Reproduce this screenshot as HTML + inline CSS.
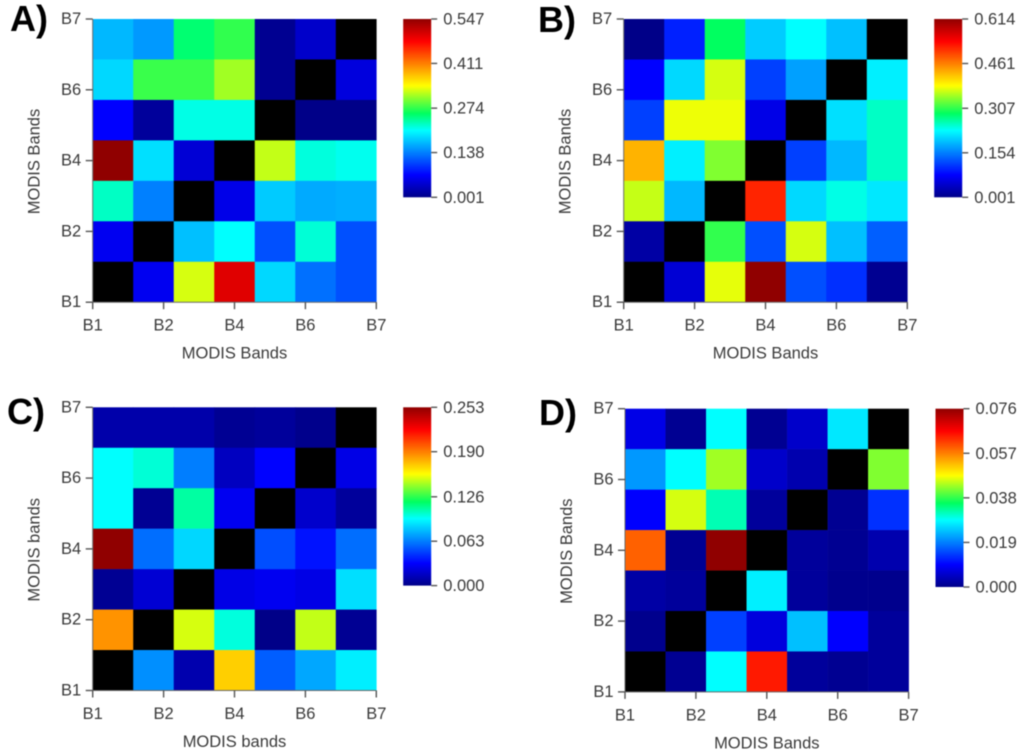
<!DOCTYPE html>
<html lang="en">
<head>
<meta charset="utf-8">
<title>MODIS band heatmaps</title>
<style>
html,body{margin:0;padding:0;background:#fff;width:1024px;height:756px;overflow:hidden}
svg{display:block;filter:blur(0.45px)}
text{font-family:"Liberation Sans",sans-serif}
.t{font-size:16.5px;fill:#3a3a3a}
.p{font-size:36px;font-weight:bold;fill:#000}
</style>
</head>
<body>
<svg id="chart" xmlns="http://www.w3.org/2000/svg" width="1024" height="756" viewBox="0 0 1024 756"></svg>
<script>
const xTickLabels = ["B1", "B2", "B4", "B6", "B7"];
const yTickLabels = ["B1", "B2", "B4", "B6", "B7"];

// Rows run from the top of each chart (B7) to the bottom (B1); null is the black diagonal.
const valuesA = [
  [0.168, 0.151, 0.252, 0.274, 0.006, 0.039, null],
  [0.185, 0.277, 0.277, 0.312, 0.006, null, 0.050],
  [0.069, 0.012, 0.214, 0.214, null, 0.001, 0.001],
  [0.547, 0.189, 0.045, null, 0.323, 0.217, 0.211],
  [0.225, 0.138, null, 0.056, 0.178, 0.160, 0.163],
  [0.061, null, 0.172, 0.206, 0.112, 0.219, 0.112],
  [null, 0.061, 0.329, 0.498, 0.185, 0.129, 0.112]
];
const valuesB = [
  [0.001, 0.097, 0.289, 0.200, 0.231, 0.193, null],
  [0.078, 0.208, 0.369, 0.116, 0.174, null, 0.222],
  [0.116, 0.378, 0.378, 0.062, null, 0.212, 0.252],
  [0.430, 0.222, 0.338, null, 0.116, 0.188, 0.252],
  [0.363, 0.188, null, 0.516, 0.208, 0.240, 0.217],
  [0.019, null, 0.308, 0.125, 0.369, 0.193, 0.135],
  [null, 0.050, 0.375, 0.614, 0.125, 0.106, 0.007]
];
const valuesC = [
  [0.009, 0.009, 0.009, 0.003, 0.005, 0.001, null],
  [0.095, 0.101, 0.063, 0.015, 0.032, null, 0.025],
  [0.095, 0.003, 0.109, 0.028, null, 0.018, 0.005],
  [0.253, 0.059, 0.085, null, 0.051, 0.036, 0.059],
  [0.003, 0.020, null, 0.025, 0.028, 0.025, 0.087],
  [0.185, null, 0.152, 0.100, 0.000, 0.149, 0.003],
  [null, 0.067, 0.010, 0.170, 0.055, 0.073, 0.091]
];
const valuesD = [
  [0.0076, 0.0008, 0.0285, 0.0008, 0.0053, 0.0268, null],
  [0.0208, 0.0285, 0.0433, 0.0053, 0.0030, null, 0.0418],
  [0.0095, 0.0456, 0.0319, 0.0015, null, 0.0008, 0.0131],
  [0.0593, 0.0008, 0.0760, null, 0.0015, 0.0008, 0.0030],
  [0.0023, 0.0015, null, 0.0274, 0.0015, 0.0004, 0.0004],
  [0.0004, null, 0.0143, 0.0068, 0.0238, 0.0095, 0.0015],
  [null, 0.0008, 0.0285, 0.0646, 0.0015, 0.0008, 0.0015]
];

const colorTicksA = ["0.001", "0.138", "0.274", "0.411", "0.547"];
const colorTicksB = ["0.001", "0.154", "0.307", "0.461", "0.614"];
const colorTicksC = ["0.000", "0.063", "0.126", "0.190", "0.253"];
const colorTicksD = ["0.000", "0.019", "0.038", "0.057", "0.076"];

const NS = "http://www.w3.org/2000/svg";
const root = document.getElementById("chart");

const rampStops = [
  [0, [0, 0, 136]], [0.125, [0, 0, 255]], [0.375, [0, 255, 255]],
  [0.47, [0, 255, 96]], [0.55, [128, 255, 48]], [0.625, [255, 255, 0]],
  [0.875, [255, 0, 0]], [1, [144, 0, 0]]
];

function rampColor(f) {
  const t = Math.max(0, Math.min(1, f));
  for (let i = 1; i < rampStops.length; i++) {
    if (t <= rampStops[i][0]) {
      const a = rampStops[i - 1], b = rampStops[i];
      const k = (t - a[0]) / (b[0] - a[0]);
      const c = a[1].map(function (v, j) { return Math.round(v + (b[1][j] - v) * k); });
      return "rgb(" + c.join(",") + ")";
    }
  }
  return "rgb(144,0,0)";
}

function make(tag, parent, attrs, text) {
  const el = document.createElementNS(NS, tag);
  for (const k in attrs) el.setAttribute(k, attrs[k]);
  if (text !== undefined) el.textContent = text;
  parent.appendChild(el);
  return el;
}

function drawPanel(cfg) {
  const W = 283.6, H = 283.2, CW = 28, CH = 178.3;
  const g = make("g", root, {});
  
  

  const label = make("text", g, { x: cfg.labelX, y: cfg.labelY, "class": "p" }, cfg.id + ")");
  
  

  const ticks = cfg.colorTicks.map(Number);
  const vMin = ticks[0], vMax = ticks[ticks.length - 1];
  const nRows = cfg.values.length, nCols = cfg.values[0].length;
  const xCell = function (c) { return cfg.left + c * W / nCols; };
  const yCell = function (r) { return cfg.top + r * H / nRows; };
  const xTick = function (i) { return cfg.left + i * W / (xTickLabels.length - 1); };
  const yTick = function (i) { return cfg.top + H - i * H / (yTickLabels.length - 1); };
  const cbX = cfg.left + 310.5;
  const cbY = function (v) { return cfg.top + CH - (v - vMin) / (vMax - vMin) * CH; };

  cfg.values.forEach(function (row, r) {
    row.forEach(function (v, c) {
      const fill = v === null ? "#000" : rampColor((v - vMin) / (vMax - vMin));
      const cell = make("rect", g, {
        x: xCell(c), y: yCell(r), width: W / nCols + 0.3, height: H / nRows + 0.3,
        fill: fill
      });
      
      
    });
  });

  const axisColor = "#6a6a6a";
  const xAxis = make("line", g, { x1: cfg.left, x2: cfg.left + W, y1: cfg.top + H, y2: cfg.top + H, stroke: axisColor, "stroke-width": 1 });
  
  
  const yAxis = make("line", g, { x1: cfg.left, x2: cfg.left, y1: cfg.top, y2: cfg.top + H, stroke: axisColor, "stroke-width": 1 });
  
  

  xTickLabels.forEach(function (name, i) {
    const x = xTick(i);
    const tick = make("line", g, { x1: x, x2: x, y1: cfg.top + H, y2: cfg.top + H + 7, stroke: "#555", "stroke-width": 1.4 });
    
    
    const t = make("text", g, { x: x, y: cfg.top + H + 28.5, "text-anchor": "middle", "class": "t" }, name);
    
    
  });

  yTickLabels.forEach(function (name, i) {
    const y = yTick(i);
    const tick = make("line", g, { x1: cfg.left - 7, x2: cfg.left, y1: y, y2: y, stroke: "#555", "stroke-width": 1.4 });
    
    
    const t = make("text", g, { x: cfg.left - 11.5, y: y + 5, "text-anchor": "end", "class": "t" }, name);
    
    
  });

  const xTitle = make("text", g, { x: cfg.left + W / 2, y: cfg.top + H + 56.5, "text-anchor": "middle", "class": "t" }, cfg.xTitle);
  
  

  const ty = cfg.top + 142.5, tx = cfg.left - 53;
  const yTitle = make("text", g, { x: tx, y: ty, "text-anchor": "middle", "class": "t", transform: "rotate(-90 " + tx + " " + ty + ")" }, cfg.yTitle);
  
  

  const defs = make("defs", g, {});
  const grad = make("linearGradient", defs, { id: "ramp-" + cfg.id, x1: 0, y1: 1, x2: 0, y2: 0 });
  rampStops.forEach(function (s) {
    make("stop", grad, { offset: s[0], "stop-color": rampColor(s[0]) });
  });
  const bar = make("rect", g, { x: cbX, y: cfg.top, width: CW, height: CH, fill: "url(#ramp-" + cfg.id + ")" });
  
  

  cfg.colorTicks.forEach(function (name) {
    const y = cbY(Number(name));
    const tick = make("line", g, { x1: cbX + CW, x2: cbX + CW + 6, y1: y, y2: y, stroke: "#555", "stroke-width": 1.4 });
    
    
    const t = make("text", g, { x: cbX + CW + 12, y: y + 5.5, "class": "t" }, name);
    
    
  });
}

drawPanel({ id: "A", left: 92.7, top: 19, labelX: 10, labelY: 31, xTitle: "MODIS Bands", yTitle: "MODIS Bands", values: valuesA, colorTicks: colorTicksA });
drawPanel({ id: "B", left: 623.7, top: 19, labelX: 538, labelY: 32, xTitle: "MODIS Bands", yTitle: "MODIS Bands", values: valuesB, colorTicks: colorTicksB });
drawPanel({ id: "C", left: 92.7, top: 407.3, labelX: 7, labelY: 424, xTitle: "MODIS bands", yTitle: "MODIS bands", values: valuesC, colorTicks: colorTicksC });
drawPanel({ id: "D", left: 625, top: 408.7, labelX: 539, labelY: 425, xTitle: "MODIS Bands", yTitle: "MODIS Bands", values: valuesD, colorTicks: colorTicksD });
</script>
</body>
</html>
